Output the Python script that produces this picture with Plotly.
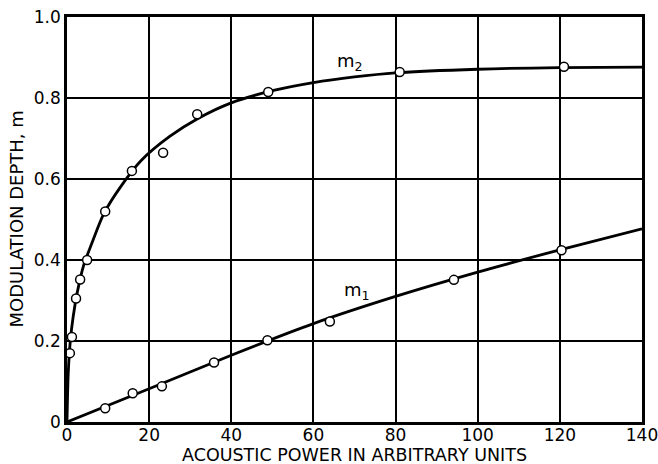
import plotly.graph_objects as go

# Measured data points (open circles)
m2_x = [0.7, 1.2, 2.2, 3.2, 4.9, 9.3, 15.8, 23.4, 31.7, 49.0, 81.0, 121.0]
m2_y = [0.17, 0.21, 0.305, 0.352, 0.40, 0.52, 0.62, 0.665, 0.76, 0.815, 0.864, 0.877]

m1_x = [9.3, 16.0, 23.1, 35.8, 48.8, 64.0, 94.2, 120.4]
m1_y = [0.034, 0.071, 0.088, 0.147, 0.202, 0.248, 0.351, 0.424]

# Fitted curves
m2_curve_x = [0, 0.3, 0.8, 1.5, 2.5, 4, 6, 9, 13, 18, 25, 32, 40, 50, 60, 70, 80, 100, 120, 140]
m2_curve_y = [0, 0.12, 0.2, 0.26, 0.32, 0.385, 0.44, 0.515, 0.58, 0.645, 0.705, 0.75, 0.788,
              0.818, 0.838, 0.852, 0.862, 0.871, 0.875, 0.876]

m1_curve_x = [0, 20, 40, 60, 80, 100, 120, 140]
m1_curve_y = [0, 0.082, 0.165, 0.243, 0.31, 0.37, 0.425, 0.477]

x_ticks = [0, 20, 40, 60, 80, 100, 120, 140]
x_tick_labels = ["0", "20", "40", "60", "80", "100", "120", "140"]
y_ticks = [0, 0.2, 0.4, 0.6, 0.8, 1.0]
y_tick_labels = ["0", "0.2", "0.4", "0.6", "0.8", "1.0"]

x_title = "ACOUSTIC POWER IN ARBITRARY UNITS"
y_title = "MODULATION DEPTH, m"

FONT = "DejaVu Sans"

fig = go.Figure()

fig.add_trace(go.Scatter(x=m2_curve_x, y=m2_curve_y, mode="lines",
                         line=dict(color="black", width=2.8, shape="spline", smoothing=0.8),
                         hoverinfo="skip", showlegend=False))
fig.add_trace(go.Scatter(x=m1_curve_x, y=m1_curve_y, mode="lines",
                         line=dict(color="black", width=2.8, shape="spline", smoothing=0.8),
                         hoverinfo="skip", showlegend=False))
fig.add_trace(go.Scatter(x=m2_x, y=m2_y, mode="markers",
                         marker=dict(symbol="circle", size=9, color="white",
                                     line=dict(color="black", width=1.5)),
                         showlegend=False))
fig.add_trace(go.Scatter(x=m1_x, y=m1_y, mode="markers",
                         marker=dict(symbol="circle", size=9, color="white",
                                     line=dict(color="black", width=1.5)),
                         showlegend=False))

fig.add_annotation(x=69, y=0.888, text="m<sub>2</sub>", showarrow=False,
                   font=dict(family=FONT, size=18, color="black"))
fig.add_annotation(x=70.5, y=0.323, text="m<sub>1</sub>", showarrow=False,
                   font=dict(family=FONT, size=18, color="black"))

# Axis titles placed as annotations for precise positioning
fig.add_annotation(x=0.5, y=0, xref="paper", yref="paper", yshift=-33,
                   xanchor="center", yanchor="middle", showarrow=False,
                   text=x_title, font=dict(family=FONT, size=17.5, color="black"))
fig.add_annotation(x=0, y=0.5, xref="paper", yref="paper", xshift=-51,
                   xanchor="center", yanchor="middle", showarrow=False, textangle=-90,
                   text=y_title, font=dict(family=FONT, size=18, color="black"))

fig.update_layout(
    width=658, height=464,
    margin=dict(l=67, r=16, t=17, b=42),
    paper_bgcolor="white", plot_bgcolor="white",
    font=dict(family=FONT, color="black"),
    xaxis=dict(range=[0, 140], tickvals=x_ticks, ticktext=x_tick_labels,
               showgrid=True, gridcolor="black", gridwidth=1.6,
               showline=True, linecolor="black", linewidth=2.6, mirror=True,
               zeroline=False, ticks="", ticklen=0, automargin=False,
               ticklabeloverflow="allow", ticklabelstandoff=-4,
               tickfont=dict(family=FONT, size=17)),
    yaxis=dict(range=[0, 1.0], tickvals=y_ticks, ticktext=y_tick_labels,
               showgrid=True, gridcolor="black", gridwidth=1.6,
               showline=True, linecolor="black", linewidth=2.6, mirror=True,
               zeroline=False, ticks="", ticklen=0, automargin=False,
               ticklabeloverflow="allow",
               tickfont=dict(family=FONT, size=17)),
)

fig.write_html(
    "out.html",
    config={"displayModeBar": False},
    post_script="document.body.style.margin='0';document.body.style.overflow='hidden';",
)
